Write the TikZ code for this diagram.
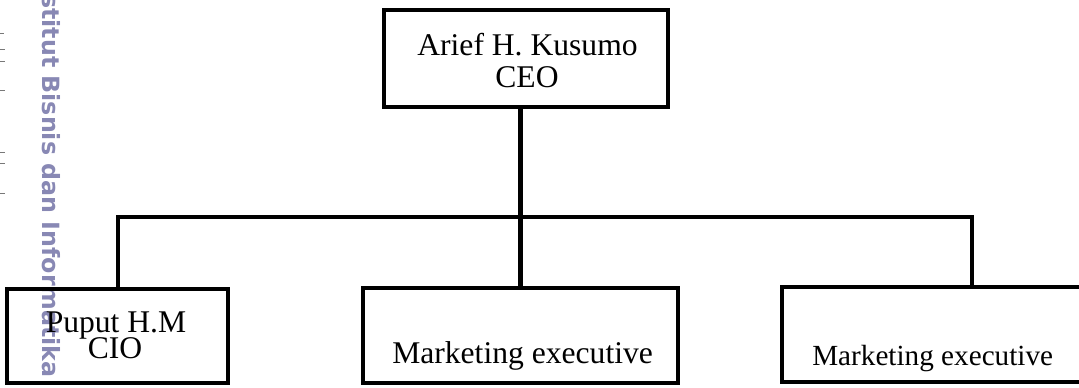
\documentclass[tikz,border=0pt]{standalone}
\usepackage{fontspec}
\setmainfont{Liberation Serif}
\newfontfamily\markfont{DejaVu Sans}
\definecolor{markblue}{RGB}{136,136,180}
\definecolor{tickgray}{RGB}{120,120,120}
\tikzset{
  orgbox/.style={draw, line width=3.7pt, inner sep=0pt, outer sep=0pt},
  orgline/.style={line width=3.7pt},
  orgtext/.style={inner sep=0pt, font=\fontsize{23.7}{24}\selectfont},
}
\begin{document}
\begin{tikzpicture}[x=0.75pt,y=0.75pt,yscale=-1,xscale=1]
			\useasboundingbox (0,0) rectangle (1079,387);
			
			% Watermark
			\node (wmark) [rotate=-90, anchor=base west, inner sep=0pt, text=markblue, font=\markfont\bfseries\fontsize{17.8}{18}\selectfont] at (42,-6) {stitut Bisnis dan Informatika};
			%Straight Lines (margin ticks)
			\draw [tickgray, line width=0.6pt]   (0,33) -- (4,33) ;
			\draw [tickgray, line width=0.6pt]   (0,49) -- (5,49) ;
			\draw [tickgray, line width=0.6pt]   (0,61) -- (5,61) ;
			\draw [tickgray, line width=0.6pt]   (0,90) -- (5,90) ;
			\draw [tickgray, line width=0.6pt]   (0,152) -- (5,152) ;
			\draw [tickgray, line width=0.6pt]   (0,163) -- (5,163) ;
			\draw [tickgray, line width=0.6pt]   (0,193) -- (5,193) ;
			
			% Boxes
			\node (ceo) [orgbox, minimum width=213pt, minimum height=72.75pt] at (526,58.5) {};
			\node (cio) [orgbox, minimum width=165.75pt, minimum height=70.5pt] at (117.5,336) {};
			\node (mkta) [orgbox, minimum width=236.25pt, minimum height=71.25pt] at (520.5,335.5) {};
			\node (mktb) [orgbox, minimum width=246pt, minimum height=71.25pt] at (946,334.5) {};
			
			% Connectors
			\coordinate (barL) at (118,217);
			\coordinate (barR) at (972,217);
			\draw [orgline]   (ceo.south -| mkta.north) -- (mkta.north) ;
			\draw [orgline]   (barL |- cio.north) -- (barL) -- (barR) -- (barR |- mktb.north) ;
			
			% Text Node
			\node (ceoname) [orgtext, anchor=base] at (527.5,55) {Arief H. Kusumo};
			% Text Node
			\node (ceorole) [orgtext, anchor=base] at (527,87) {CEO};
			% Text Node
			\node (cioname) [orgtext, anchor=base] at (116,332) {Puput H.M};
			% Text Node
			\node (ciorole) [orgtext, anchor=base] at (115,358) {CIO};
			% Text Node
			\node (mktarole) [orgtext, anchor=base west] at (392,363) {Marketing executive};
			% Text Node
			\node (mktbrole) [orgtext, anchor=base west, font=\fontsize{21.9}{22}\selectfont] at (812,365) {Marketing executive};
			
\end{tikzpicture}
\end{document}
